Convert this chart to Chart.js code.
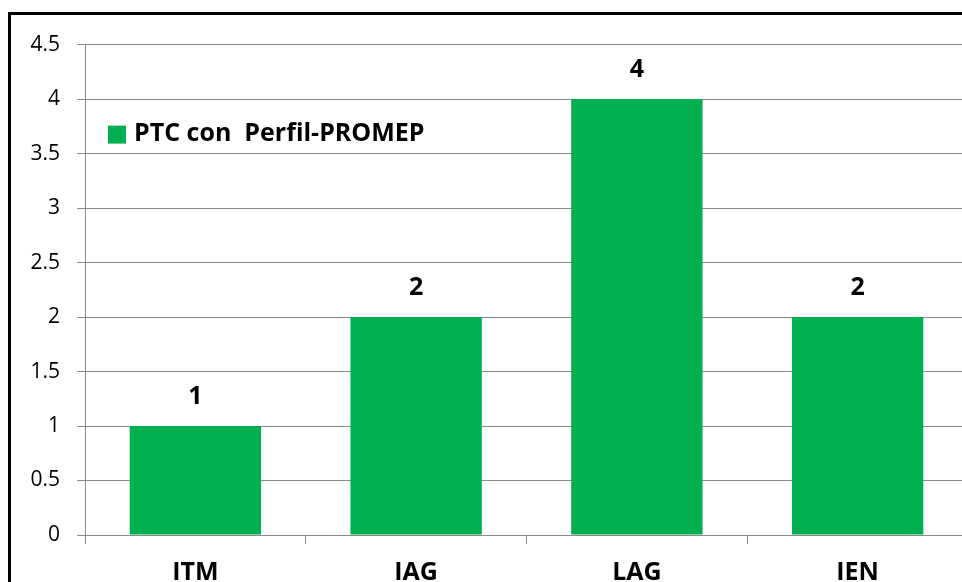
<!DOCTYPE html>
<html>
<head>
<meta charset="utf-8">
<script src="https://cdn.jsdelivr.net/npm/chart.js@4.4.0/dist/chart.umd.min.js"></script>
<style>
    html, body { margin: 0; padding: 0; background: #fff; overflow: hidden; width: 962px; height: 582px; }
    #frame { position: absolute; left: 8px; top: 12px; border-left: 3px solid #000; border-top: 3px solid #000; width: 1000px; height: 620px; }
    canvas { display: block; }
</style>
</head>
<body>
<div id="frame"><canvas id="promepChart" width="1000" height="620"></canvas></div>
<script>
// Chart data
const categories = ['ITM', 'IAG', 'LAG', 'IEN'];
const ptcValues = [1, 2, 4, 2];
const seriesLabel = 'PTC con  Perfil-PROMEP';
const yTicks = [0, 0.5, 1, 1.5, 2, 2.5, 3, 3.5, 4, 4.5];

const barGreen = '#00B050';
const gridGray = '#8a8a8a';
const boldFont = '"Open Sans", "DejaVu Sans", sans-serif';

// Legend drawn inside the plot area, like the original
const insideLegend = {
    id: 'insideLegend',
    afterDraw(chart) {
        const ctx = chart.ctx;
        const area = chart.chartArea;
        const ds = chart.data.datasets[0];
        ctx.save();
        ctx.fillStyle = ds.backgroundColor;
        ctx.fillRect(area.left + 23, area.top + 81, 18, 18);
        ctx.fillStyle = '#000';
        ctx.font = 'bold 25px ' + boldFont;
        ctx.textBaseline = 'middle';
        ctx.textAlign = 'left';
        ctx.fillText(ds.label, area.left + 49, area.top + 89);
        ctx.restore();
    }
};

// Value labels above each bar
const valueLabels = {
    id: 'valueLabels',
    afterDatasetsDraw(chart) {
        const ctx = chart.ctx;
        const meta = chart.getDatasetMeta(0);
        ctx.save();
        ctx.fillStyle = '#000';
        ctx.font = 'bold 25px ' + boldFont;
        ctx.textAlign = 'center';
        ctx.textBaseline = 'middle';
        meta.data.forEach(function(bar, i) {
            ctx.fillText(String(chart.data.datasets[0].data[i]), bar.x, bar.y - 29);
        });
        ctx.restore();
    }
};

new Chart(document.getElementById('promepChart'), {
    type: 'bar',
    data: {
        labels: categories,
        datasets: [{
            label: seriesLabel,
            data: ptcValues,
            backgroundColor: barGreen,
            borderWidth: 0,
            barPercentage: 0.595,
            categoryPercentage: 1
        }]
    },
    options: {
        responsive: false,
        animation: false,
        layout: {
            padding: { left: 0, top: 27, right: 43, bottom: 0 }
        },
        plugins: {
            legend: { display: false },
            tooltip: { enabled: false }
        },
        scales: {
            x: {
                grid: {
                    offset: true,
                    drawOnChartArea: false,
                    drawTicks: true,
                    tickLength: 9,
                    color: gridGray
                },
                border: { color: gridGray, width: 1 },
                ticks: {
                    color: '#000',
                    padding: 14,
                    font: { family: boldFont, size: 25, weight: 'bold' }
                },
                afterFit(scale) { scale.height = 100; }
            },
            y: {
                min: 0,
                max: 4.5,
                afterBuildTicks(scale) {
                    scale.ticks = yTicks.map(v => ({ value: v }));
                },
                grid: {
                    color: gridGray,
                    tickLength: 8,
                    lineWidth: 1
                },
                border: { color: gridGray, width: 1 },
                ticks: {
                    color: '#000',
                    padding: 17,
                    font: { family: '"Open Sans", sans-serif', size: 21 },
                    callback: function(value) { return String(value); }
                },
                afterFit(scale) { scale.width = 74; }
            }
        }
    },
    plugins: [insideLegend, valueLabels]
});
</script>
</body>
</html>
